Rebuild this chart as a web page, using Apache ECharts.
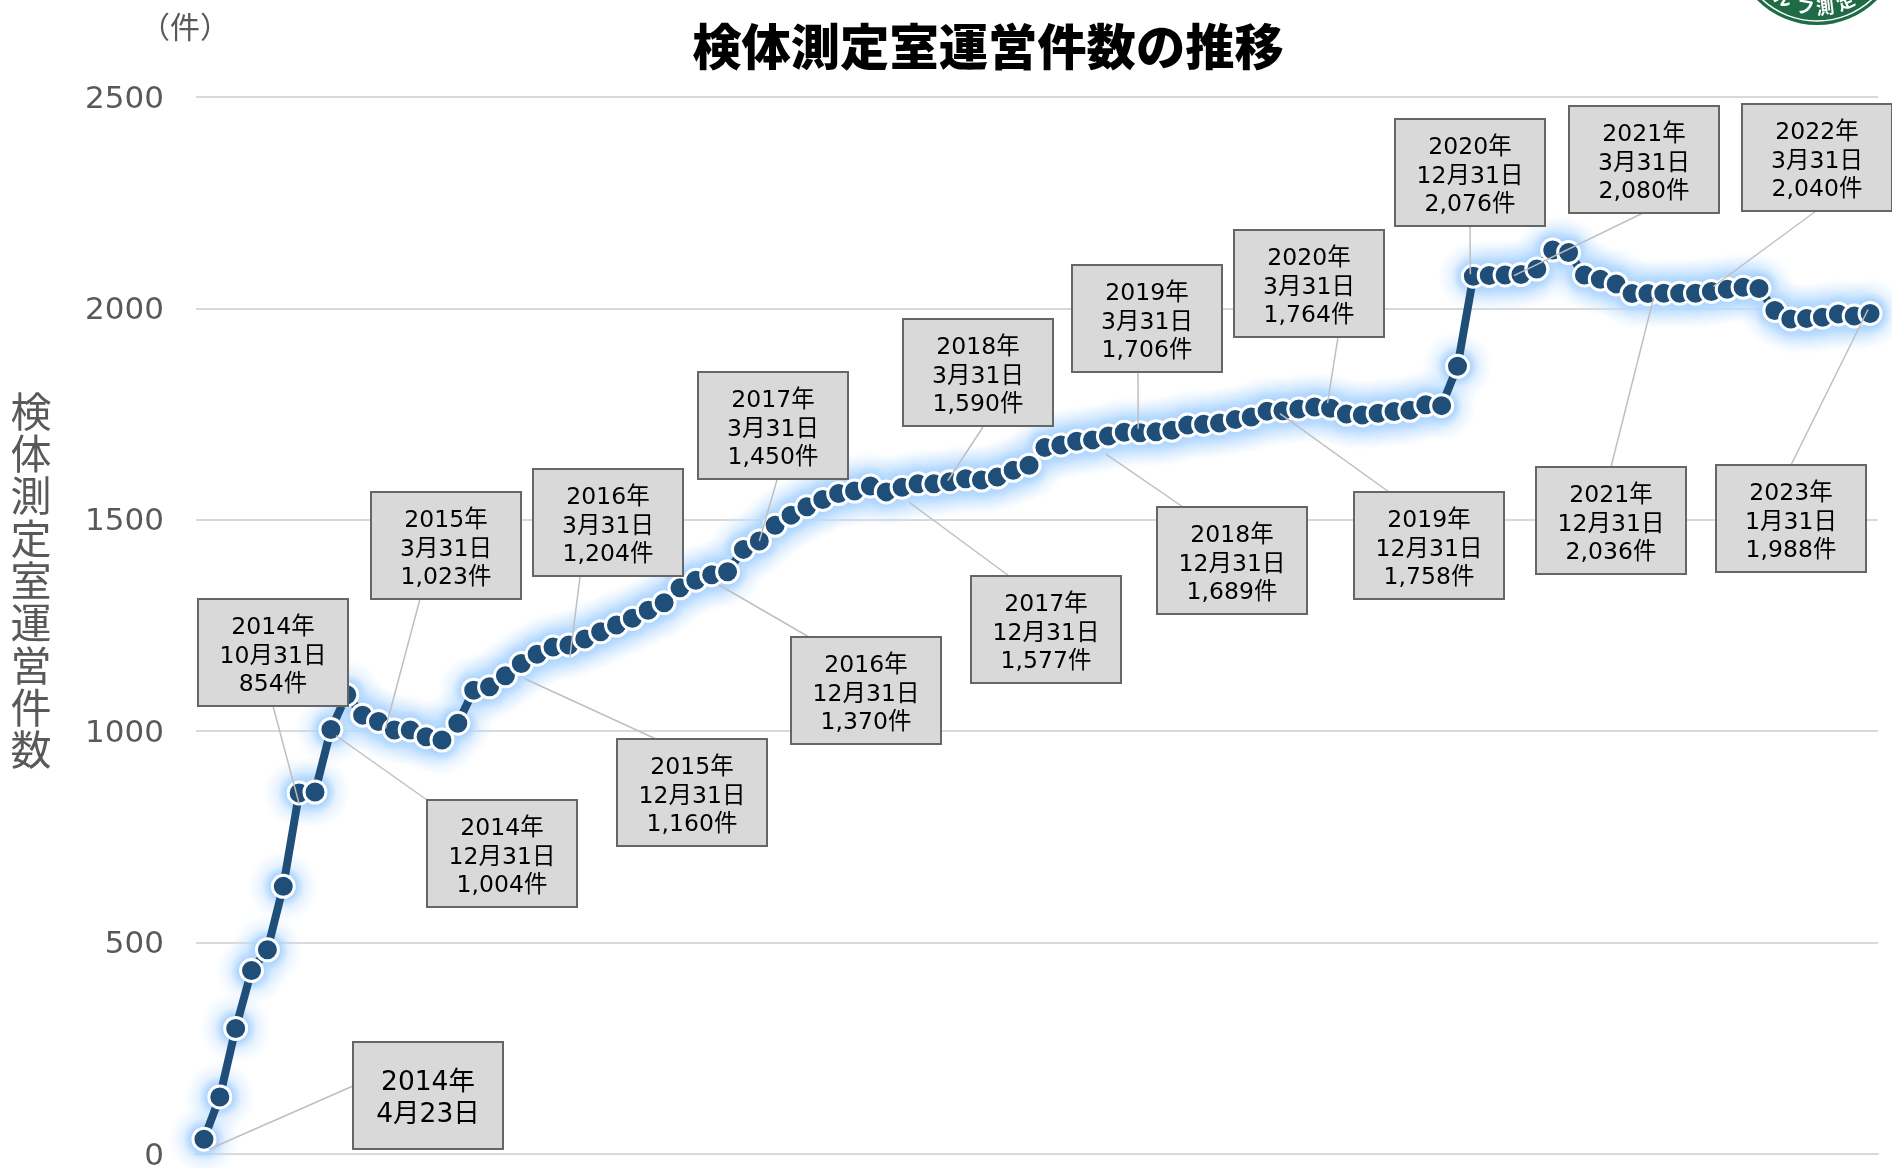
<!DOCTYPE html>
<html><head><meta charset="utf-8">
<style>html,body{margin:0;padding:0;background:#fff}#c{width:1892px;height:1168px}</style>
<script src="https://cdn.jsdelivr.net/npm/echarts@6/dist/echarts.min.js"></script>
</head><body><div id="c"></div>
<script>
var counts2014 = [35,135,297,434,483,633,854,856,1004];
var counts2015 = [1086,1038,1023,1003,1003,987,979,1019,1097,1105,1131,1160];
var counts2016 = [1182,1199,1204,1218,1235,1251,1267,1286,1304,1339,1357,1370];
var counts2017 = [1377,1430,1450,1487,1511,1531,1548,1562,1568,1580,1566,1577];
var counts2018 = [1585,1585,1590,1597,1594,1601,1617,1629,1671,1677,1686,1689];
var counts2019 = [1698,1707,1706,1708,1712,1724,1726,1729,1737,1743,1757,1758];
var counts2020 = [1762,1767,1764,1750,1748,1752,1756,1759,1772,1770,1863,2076];
var counts2021 = [2078,2079,2080,2093,2138,2132,2079,2069,2058,2035,2035,2036];
var counts2022 = [2036,2036,2040,2045,2050,2047,1995,1975,1976,1979,1987,1982];
var counts2023 = [1988];
var counts = [].concat(counts2014,counts2015,counts2016,counts2017,counts2018,counts2019,counts2020,counts2021,counts2022,counts2023);
var months = counts.map(function(_,i){var m=i+3;return (2014+Math.floor(m/12))+'年'+(m%12+1)+'月';});
var yTicks = [0,500,1000,1500,2000,2500];
var titleText = '検体測定室運営件数の推移';
var yName = '検体測定室運営件数';
var unitText = '（件）';

var calloutIndex = [0,6,8,11,20,23,32,35,44,47,56,59,68,71,80,83,92,95,105];
var calloutText = [
 '2014年\n4月23日','2014年\n10月31日\n854件','2014年\n12月31日\n1,004件','2015年\n3月31日\n1,023件',
 '2015年\n12月31日\n1,160件','2016年\n3月31日\n1,204件','2016年\n12月31日\n1,370件','2017年\n3月31日\n1,450件',
 '2017年\n12月31日\n1,577件','2018年\n3月31日\n1,590件','2018年\n12月31日\n1,689件','2019年\n3月31日\n1,706件',
 '2019年\n12月31日\n1,758件','2020年\n3月31日\n1,764件','2020年\n12月31日\n2,076件','2021年\n3月31日\n2,080件',
 '2021年\n12月31日\n2,036件','2022年\n3月31日\n2,040件','2023年\n1月31日\n1,988件'];
var calloutLeftTop = [
 [353,1042],[198,599],[427,800],[371,492],[617,739],[533,469],[791,637],[698,372],[971,576],[903,319],
 [1157,507],[1072,265],[1354,492],[1234,230],[1395,119],[1569,106],[1536,467],[1742,104],[1716,465]];
// where each leader leaves its box (page px) and how far from the point's centre it stops
var leaderStart = [
 [353,1086],[273,706],[427,800],[420,599],[656,739],[580,577],[809,637],[777,480],[1009,576],[983,427],
 [1183,507],[1138,372],[1389,492],[1338,337],[1470,226],[1643,213],[1611,467],[1816,211],[1791,465]];
var leaderEndOffset = [
 [5,10],[0,11],[5,6],[7,7],[3,15],[1,12],[7,10],[0,0],[7,15],[-2,-1],
 [13,14],[-2,-4],[-3,3],[-3,-5],[-3,-2],[-7,1],[-10,4],[2,-5],[-2,-4]];
var BOX_W = 148, BOX_H = 105;
var FONT = '"DejaVu Sans","Noto Sans CJK JP",sans-serif';
var CJK = '"Noto Sans CJK JP","DejaVu Sans",sans-serif';

var calloutData = counts.map(function(v,i){
  var k = calloutIndex.indexOf(i);
  if (k < 0) return null;
  var big = k === 0;
  var pad = big ? 24 : 14;
  return {value:v,
    label:{show:true,formatter:calloutText[k],fontSize:big?26.5:23.5,lineHeight:big?32:28.5,
      padding:[pad,0,0,0],height:BOX_H-pad}};
});

var chart = echarts.init(document.getElementById('c'),null,{renderer:'canvas',width:1892,height:1168});

// seal in the top right corner
var sealChars = ['ル','フ','測','定'];
var sealAngles = [-30,-10,7,25];
var sealR = 84.5, sealCx = 1817, sealCy = -59.5;
var sealText = sealChars.map(function(ch,i){
  var a = sealAngles[i]*Math.PI/180;
  return {type:'text',x:sealCx+Math.sin(a)*67,y:sealCy+Math.cos(a)*67,rotation:a,
    style:{text:ch,fill:'#fff',font:'bold 18px '+CJK,align:'center',verticalAlign:'middle'},z:10};
});

var glow = new echarts.graphic.RadialGradient(0.5,0.5,0.5,[
  {offset:0,color:'rgba(165,208,255,1)'},
  {offset:0.33,color:'rgba(165,208,255,1)'},
  {offset:0.6,color:'rgba(185,220,255,0.38)'},
  {offset:1,color:'rgba(210,232,255,0)'}
]);

chart.setOption({
  animation:false,
  backgroundColor:'#fff',
  title:[
   {text:titleText,left:983,top:12,textAlign:'center',textStyle:{fontFamily:CJK,fontSize:49.3,fontWeight:900,color:'#000',lineHeight:58}},
   {text:unitText,left:180,top:7,textAlign:'center',textStyle:{fontFamily:CJK,fontSize:30,fontWeight:'normal',color:'#595959'}},
   {text:yName.split('').join('\n'),left:26,top:385,textAlign:'center',textStyle:{fontFamily:CJK,fontSize:41,fontWeight:'normal',color:'#595959',lineHeight:42.3}}
  ],
  grid:{left:196,right:14,top:97,bottom:14,containLabel:false,outerBoundsMode:'none'},
  xAxis:{type:'category',data:months,boundaryGap:true,
    axisLine:{show:true,lineStyle:{color:'#D9D9D9',width:2}},axisTick:{show:false},axisLabel:{show:false}},
  yAxis:{type:'value',min:yTicks[0],max:yTicks[yTicks.length-1],interval:500,
    axisLine:{show:false},axisTick:{show:false},
    axisLabel:{margin:32,hideOverlap:false,formatter:function(v){return '{v|'+v+'}';},
      rich:{v:{color:'#595959',fontSize:31,fontFamily:FONT,padding:[5,0,0,0]}}},
    splitLine:{show:true,lineStyle:{color:'#D9D9D9',width:2}}},
  series:[
   {type:'line',data:counts,z:2,silent:true,symbol:'circle',symbolSize:72,showSymbol:true,showAllSymbol:true,
    lineStyle:{width:0,opacity:0},
    itemStyle:{color:glow}},
   {type:'line',data:counts,z:3,silent:true,symbol:'circle',symbolSize:22,showSymbol:true,showAllSymbol:true,
    lineStyle:{width:8,color:'#1F4E79'},
    itemStyle:{color:'#1F4E79',borderColor:'#fff',borderWidth:3}},
   {type:'custom',z:4,silent:true,data:calloutIndex,
    renderItem:function(params,api){
      var k = params.dataIndex, i = calloutIndex[k];
      var p = api.coord([i,counts[i]]);
      return {type:'line',shape:{x1:leaderStart[k][0],y1:leaderStart[k][1],
        x2:p[0]+leaderEndOffset[k][0],y2:p[1]+leaderEndOffset[k][1]},
        style:{stroke:'#BFBFBF',lineWidth:1.5,fill:null}};
    }},
   {type:'line',data:calloutData,z:5,silent:true,symbol:'circle',symbolSize:1,showSymbol:true,showAllSymbol:true,connectNulls:false,
    lineStyle:{width:0,opacity:0},
    itemStyle:{color:'rgba(0,0,0,0)'},
    label:{show:false,color:'#000',fontFamily:FONT,fontSize:23.5,lineHeight:28.5,backgroundColor:'#D9D9D9',
      borderColor:'#666',borderWidth:2,width:BOX_W,height:BOX_H-14,padding:[14,0,0,0],align:'center',verticalAlign:'top'},
    labelLayout:function(p){
      var k = calloutIndex.indexOf(p.dataIndex);
      if (k<0) return {};
      return {x:calloutLeftTop[k][0]+75,y:calloutLeftTop[k][1]+1,align:'center',verticalAlign:'top'};
    }}
  ],
  graphic:[{type:'group',silent:true,children:[
    {type:'circle',shape:{cx:sealCx,cy:sealCy,r:sealR},style:{fill:'#1F6B45'},z:9},
    {type:'circle',shape:{cx:sealCx,cy:sealCy,r:sealR-4},style:{fill:'none',stroke:'#fff',lineWidth:1.5},z:9}
  ].concat(sealText)}]
});
</script></body></html>
